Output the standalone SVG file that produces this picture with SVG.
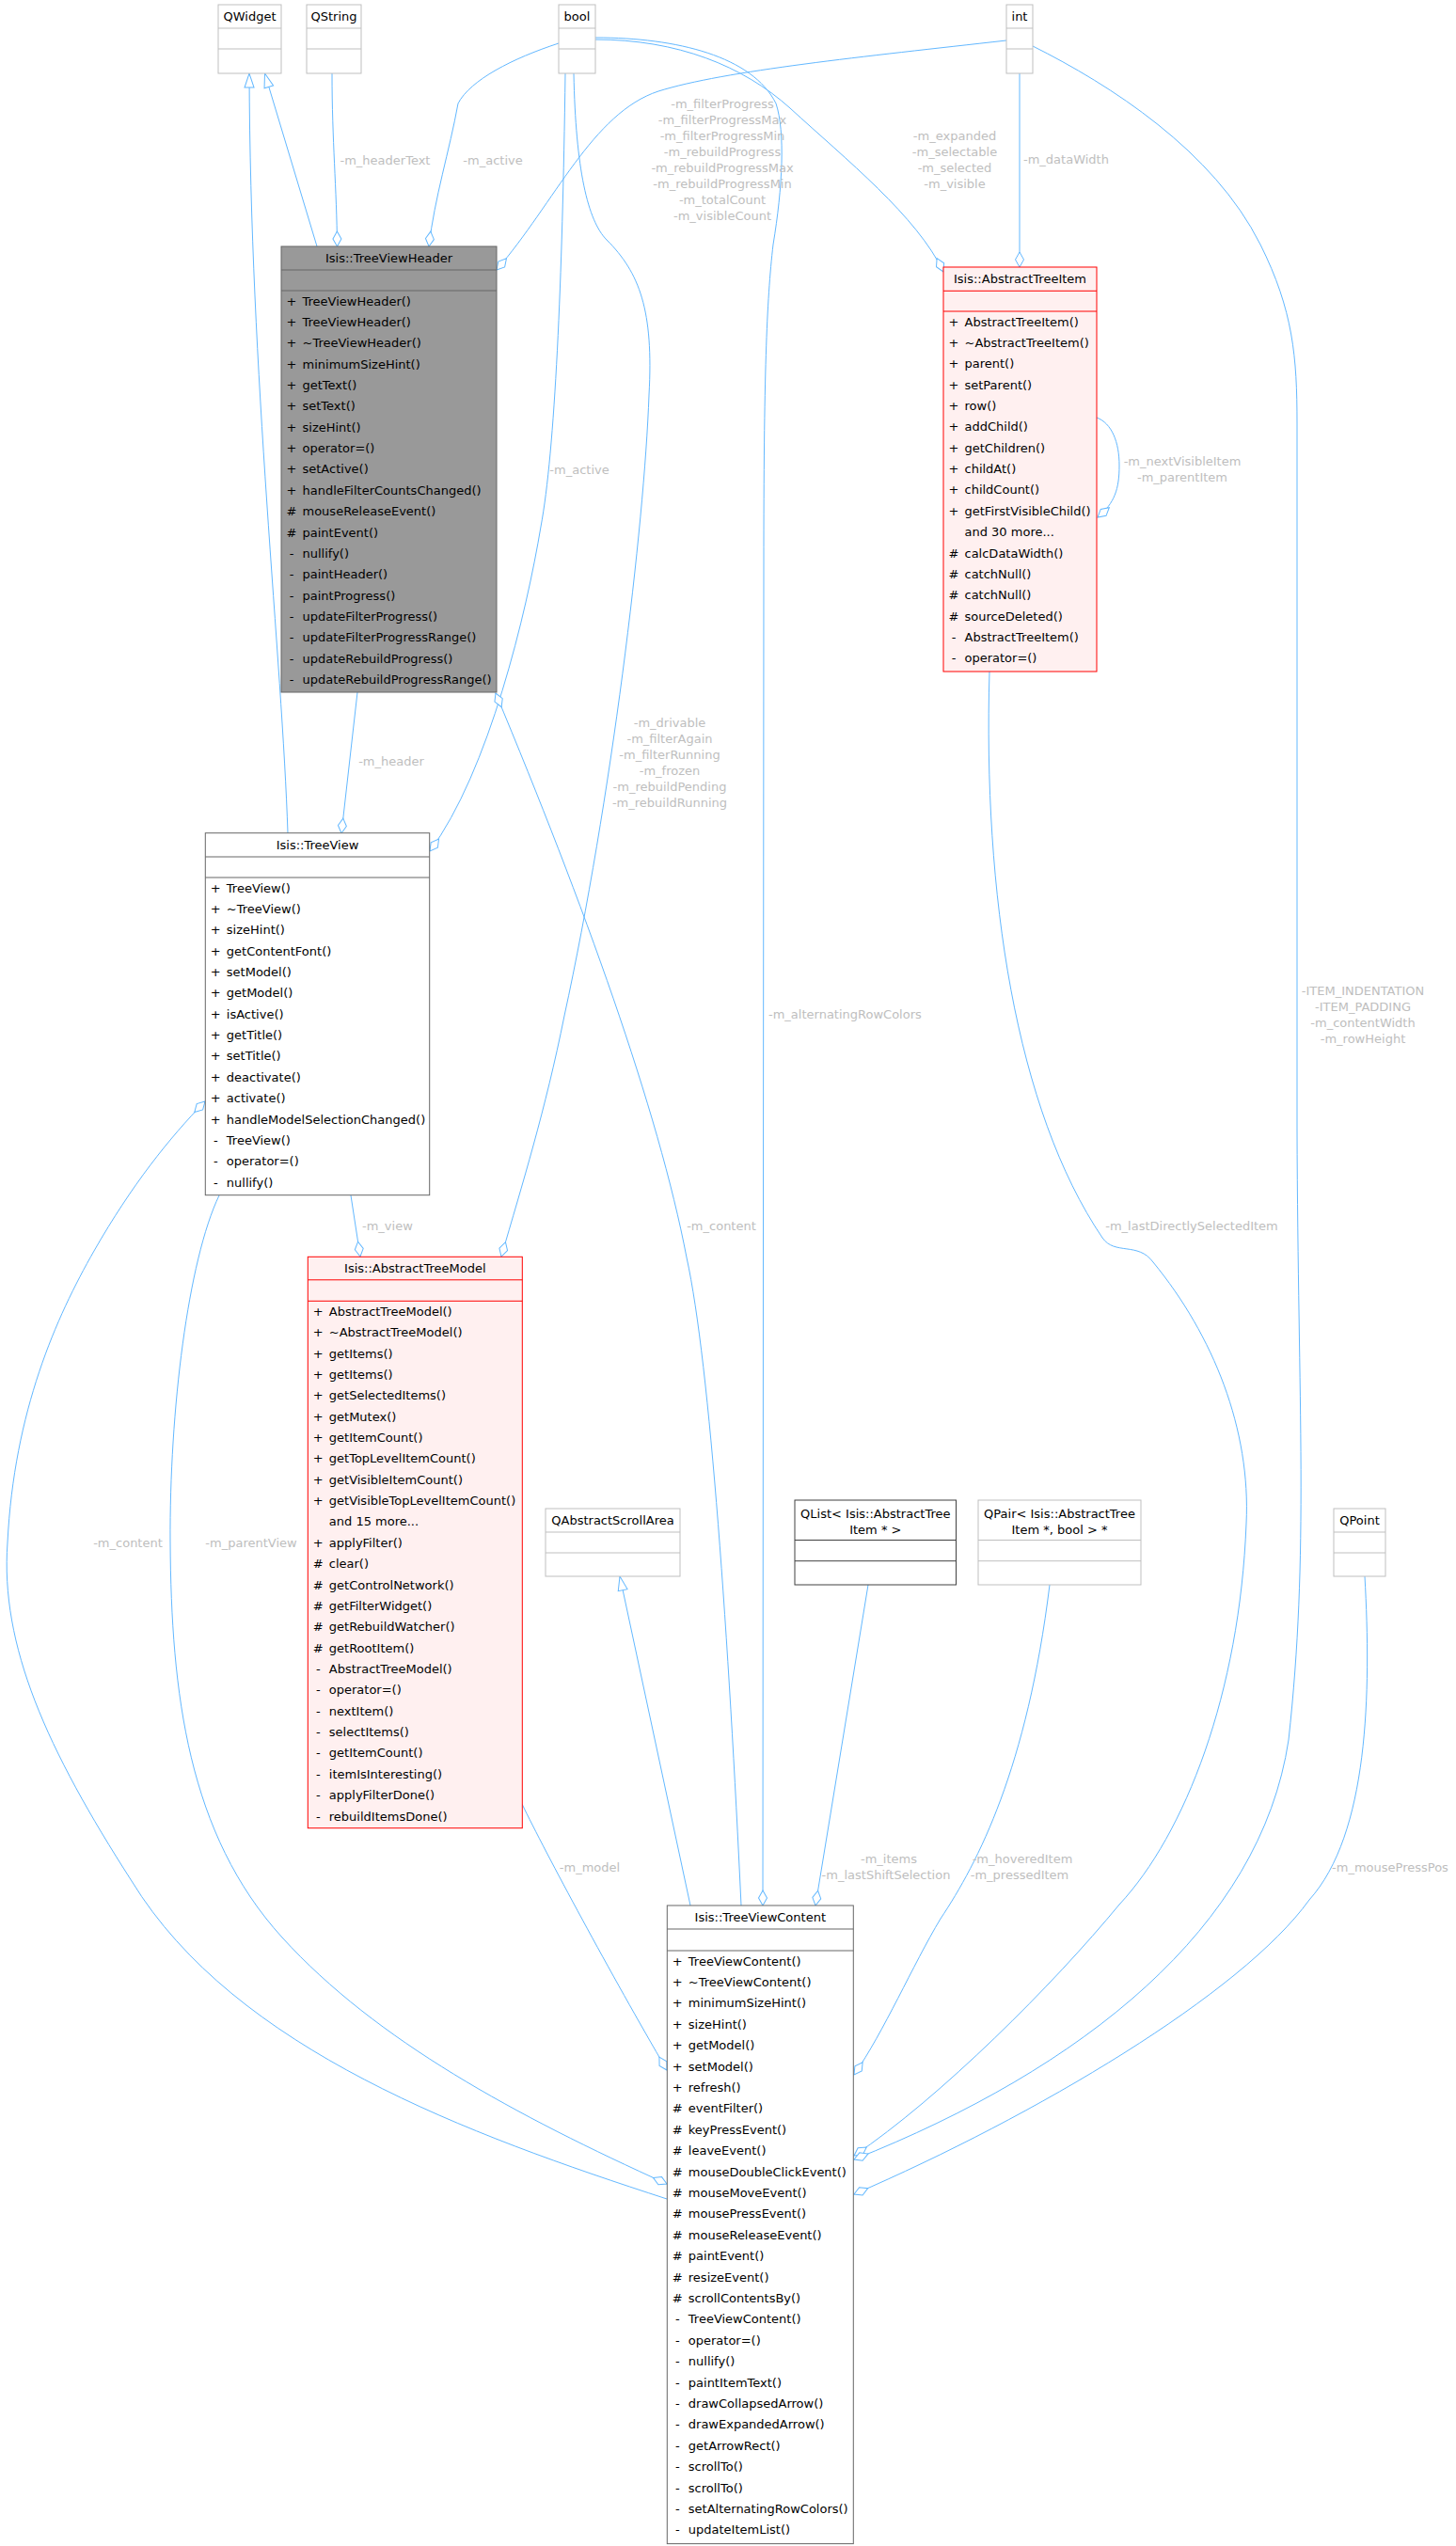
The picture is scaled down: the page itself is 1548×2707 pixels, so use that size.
<svg xmlns="http://www.w3.org/2000/svg" width="1548" height="2707" viewBox="0 0 1548 2707">
<defs>
<style>
text{font-family:"DejaVu Sans","Liberation Sans",sans-serif;font-size:13px;fill:#000}
.c{text-anchor:middle}
.l{fill:#bebebe}
.gray{fill:#fff;stroke:#bfbfbf}
.dark{fill:#fff;stroke:#666}
.hdr{fill:#999;stroke:#666}
.red{fill:#fff0f0;stroke:#ff0000}
.blk{fill:#fff;stroke:#404040}
.e{fill:none;stroke:#63b8ff;stroke-width:1}
.ed{marker-end:url(#dia)}
.ei{marker-end:url(#tri)}
</style>
<marker id="dia" markerUnits="userSpaceOnUse" markerWidth="18" markerHeight="12" refX="16" refY="0" orient="auto" overflow="visible"><path d="M0,0 L8,-4.5 L16,0 L8,4.5 Z" fill="#fff" stroke="#63b8ff"/></marker>
<marker id="tri" markerUnits="userSpaceOnUse" markerWidth="16" markerHeight="12" refX="15" refY="0" orient="auto" overflow="visible"><path d="M0,-5 L15,0 L0,5 Z" fill="#fff" stroke="#63b8ff"/></marker>
</defs>
<rect width="1548" height="2707" fill="#fff"/>

<g id="edges">
<path class="e ei" d="M306,886 C300,700 266,400 265,78"/>
<path class="e ei" d="M337,262 L281.5,78"/>
<path class="e ed" d="M353,78 C353,150 358,200 358.5,262"/>
<path class="e ed" d="M594,46 C545,62 500,85 487,110 C478,160 462,210 456,262"/>
<path class="e ed" d="M1070,43 C920,60 770,75 700,97 C630,120 590,215 528,287"/>
<path class="e ed" d="M633,42 C720,42 790,70 840,115 C900,170 975,230 1003,289"/>
<path class="e ed" d="M1084,78 L1084,284"/>
<path class="e ed" d="M601,78 C598,300 590,480 575,560 C560,650 520,820 457,905"/>
<path class="e ed" d="M610,78 C612,180 625,235 645,255 C680,290 695,330 690,420 C685,560 650,850 600,1080 C580,1180 555,1260 533,1336"/>
<path class="e ed" d="M633,40 C720,40 800,60 825,110 C835,140 832,200 822,260 C815,320 812,400 812,600 L811,2026"/>
<path class="e ed" d="M380,736 L363,886"/>
<path class="e ed" d="M788,2026 C775,1750 755,1450 730,1337 C700,1180 620,960 527,737"/>
<path class="e ei" d="M734,2026 L659,1676"/>
<path class="e ed" d="M373,1271 L383,1336"/>
<path class="e ed" d="M555,1918 C580,1970 650,2100 709,2201"/>
<path class="e ed" d="M923,1685 L867,2026"/>
<path class="e ed" d="M1116,1685 C1092,1880 1040,1980 1000,2040 C970,2090 940,2160 908,2206"/>
<path class="e ed" d="M1052,714 C1045,950 1080,1180 1172,1316 C1185,1335 1210,1320 1226,1342 C1290,1420 1330,1520 1325,1620 C1318,1800 1260,1950 1190,2025 C1120,2110 1000,2230 908,2292"/>
<path class="e ed" d="M1098,49 C1180,90 1290,160 1340,260 C1375,330 1379,380 1379,450 L1379,1200 C1380,1500 1392,1650 1370,1850 C1340,2050 1150,2200 908,2296"/>
<path class="e ed" d="M1451,1676 C1458,1800 1455,1950 1392,2020 C1320,2120 1100,2250 908,2333"/>
<path class="e ed" d="M233,1271 C200,1340 180,1500 181,1640 C182,1800 200,1950 300,2060 C400,2170 550,2250 709,2322"/>
<path class="e ed" d="M709,2338 C500,2270 250,2180 140,2000 C50,1860 0,1750 8,1640 C15,1500 60,1400 100,1330 C140,1260 180,1210 218,1171"/>
<path class="e ed" d="M1166,444 C1182,450 1190,470 1190,495 C1190,520 1185,535 1167,550"/>

<text class="l c" x="409.5" y="174.5">-m_headerText</text>
<text class="l c" x="524" y="174.5">-m_active</text>
<text class="l c" x="768" y="114.5">-m_filterProgress</text>
<text class="l c" x="768" y="131.5">-m_filterProgressMax</text>
<text class="l c" x="768" y="148.5">-m_filterProgressMin</text>
<text class="l c" x="768" y="165.5">-m_rebuildProgress</text>
<text class="l c" x="768" y="182.5">-m_rebuildProgressMax</text>
<text class="l c" x="768" y="199.5">-m_rebuildProgressMin</text>
<text class="l c" x="768" y="216.5">-m_totalCount</text>
<text class="l c" x="768" y="233.5">-m_visibleCount</text>
<text class="l c" x="1015" y="148.5">-m_expanded</text>
<text class="l c" x="1015" y="165.5">-m_selectable</text>
<text class="l c" x="1015" y="182.5">-m_selected</text>
<text class="l c" x="1015" y="199.5">-m_visible</text>
<text class="l" x="1088" y="174">-m_dataWidth</text>
<text class="l c" x="616" y="503.5">-m_active</text>
<text class="l c" x="416" y="813.5">-m_header</text>
<text class="l c" x="1257" y="494.5">-m_nextVisibleItem</text>
<text class="l c" x="1257" y="511.5">-m_parentItem</text>
<text class="l c" x="712" y="773">-m_drivable</text>
<text class="l c" x="712" y="790">-m_filterAgain</text>
<text class="l c" x="712" y="807">-m_filterRunning</text>
<text class="l c" x="712" y="824">-m_frozen</text>
<text class="l c" x="712" y="841">-m_rebuildPending</text>
<text class="l c" x="712" y="858">-m_rebuildRunning</text>
<text class="l" x="817" y="1083">-m_alternatingRowColors</text>
<text class="l c" x="1449" y="1057.5">-ITEM_INDENTATION</text>
<text class="l c" x="1449" y="1074.5">-ITEM_PADDING</text>
<text class="l c" x="1449" y="1091.5">-m_contentWidth</text>
<text class="l c" x="1449" y="1108.5">-m_rowHeight</text>
<text class="l c" x="767" y="1307.5">-m_content</text>
<text class="l c" x="1267" y="1307.5">-m_lastDirectlySelectedItem</text>
<text class="l" x="385" y="1307.5">-m_view</text>
<text class="l c" x="136" y="1644.5">-m_content</text>
<text class="l c" x="267" y="1644.5">-m_parentView</text>
<text class="l c" x="627" y="1989.5">-m_model</text>
<text class="l c" x="945" y="1981">-m_items</text>
<text class="l c" x="942" y="1998">-m_lastShiftSelection</text>
<text class="l c" x="1087" y="1981">-m_hoveredItem</text>
<text class="l c" x="1084" y="1998">-m_pressedItem</text>
<text class="l c" x="1478" y="1989.5">-m_mousePressPos</text>
</g>

<g id="QWidget">
<rect class="gray" x="232" y="5" width="67" height="73"/>
<line class="gray" x1="232" y1="30" x2="299" y2="30"/><line class="gray" x1="232" y1="52" x2="299" y2="52"/>
<text class="c" x="265.5" y="22">QWidget</text>
</g>
<g id="QString">
<rect class="gray" x="326" y="5" width="58" height="73"/>
<line class="gray" x1="326" y1="30" x2="384" y2="30"/><line class="gray" x1="326" y1="52" x2="384" y2="52"/>
<text class="c" x="355" y="22">QString</text>
</g>
<g id="bool">
<rect class="gray" x="594" y="5" width="39" height="73"/>
<line class="gray" x1="594" y1="30" x2="633" y2="30"/><line class="gray" x1="594" y1="52" x2="633" y2="52"/>
<text class="c" x="613.5" y="22">bool</text>
</g>
<g id="int">
<rect class="gray" x="1070" y="5" width="28" height="73"/>
<line class="gray" x1="1070" y1="30" x2="1098" y2="30"/><line class="gray" x1="1070" y1="52" x2="1098" y2="52"/>
<text class="c" x="1084" y="22">int</text>
</g>

<g id="TreeViewHeader">
<rect class="hdr" x="299" y="262" width="229" height="474"/>
<line class="hdr" x1="299" y1="287" x2="528" y2="287"/><line class="hdr" x1="299" y1="309" x2="528" y2="309"/>
<text class="c" x="413.5" y="279">Isis::TreeViewHeader</text>
<g transform="translate(299,324.6)">
<text class="c" x="11" y="0">+</text><text x="22.5" y="0">TreeViewHeader()</text>
<text class="c" x="11" y="22.36">+</text><text x="22.5" y="22.36">TreeViewHeader()</text>
<text class="c" x="11" y="44.72">+</text><text x="22.5" y="44.72">~TreeViewHeader()</text>
<text class="c" x="11" y="67.08">+</text><text x="22.5" y="67.08">minimumSizeHint()</text>
<text class="c" x="11" y="89.44">+</text><text x="22.5" y="89.44">getText()</text>
<text class="c" x="11" y="111.8">+</text><text x="22.5" y="111.8">setText()</text>
<text class="c" x="11" y="134.16">+</text><text x="22.5" y="134.16">sizeHint()</text>
<text class="c" x="11" y="156.52">+</text><text x="22.5" y="156.52">operator=()</text>
<text class="c" x="11" y="178.88">+</text><text x="22.5" y="178.88">setActive()</text>
<text class="c" x="11" y="201.24">+</text><text x="22.5" y="201.24">handleFilterCountsChanged()</text>
<text class="c" x="11" y="223.6">#</text><text x="22.5" y="223.6">mouseReleaseEvent()</text>
<text class="c" x="11" y="245.96">#</text><text x="22.5" y="245.96">paintEvent()</text>
<text class="c" x="11" y="268.32">-</text><text x="22.5" y="268.32">nullify()</text>
<text class="c" x="11" y="290.68">-</text><text x="22.5" y="290.68">paintHeader()</text>
<text class="c" x="11" y="313.04">-</text><text x="22.5" y="313.04">paintProgress()</text>
<text class="c" x="11" y="335.4">-</text><text x="22.5" y="335.4">updateFilterProgress()</text>
<text class="c" x="11" y="357.76">-</text><text x="22.5" y="357.76">updateFilterProgressRange()</text>
<text class="c" x="11" y="380.12">-</text><text x="22.5" y="380.12">updateRebuildProgress()</text>
<text class="c" x="11" y="402.48">-</text><text x="22.5" y="402.48">updateRebuildProgressRange()</text>
</g>
</g>

<g id="AbstractTreeItem">
<rect class="red" x="1003" y="284" width="163" height="430"/>
<line class="red" x1="1003" y1="309.3" x2="1166" y2="309.3"/><line class="red" x1="1003" y1="331" x2="1166" y2="331"/>
<text class="c" x="1084.5" y="301">Isis::AbstractTreeItem</text>
<g transform="translate(1003,346.6)">
<text class="c" x="11" y="0">+</text><text x="22.5" y="0">AbstractTreeItem()</text>
<text class="c" x="11" y="22.36">+</text><text x="22.5" y="22.36">~AbstractTreeItem()</text>
<text class="c" x="11" y="44.72">+</text><text x="22.5" y="44.72">parent()</text>
<text class="c" x="11" y="67.08">+</text><text x="22.5" y="67.08">setParent()</text>
<text class="c" x="11" y="89.44">+</text><text x="22.5" y="89.44">row()</text>
<text class="c" x="11" y="111.8">+</text><text x="22.5" y="111.8">addChild()</text>
<text class="c" x="11" y="134.16">+</text><text x="22.5" y="134.16">getChildren()</text>
<text class="c" x="11" y="156.52">+</text><text x="22.5" y="156.52">childAt()</text>
<text class="c" x="11" y="178.88">+</text><text x="22.5" y="178.88">childCount()</text>
<text class="c" x="11" y="201.24">+</text><text x="22.5" y="201.24">getFirstVisibleChild()</text>
<text x="22.5" y="223.6">and 30 more...</text>
<text class="c" x="11" y="245.96">#</text><text x="22.5" y="245.96">calcDataWidth()</text>
<text class="c" x="11" y="268.32">#</text><text x="22.5" y="268.32">catchNull()</text>
<text class="c" x="11" y="290.68">#</text><text x="22.5" y="290.68">catchNull()</text>
<text class="c" x="11" y="313.04">#</text><text x="22.5" y="313.04">sourceDeleted()</text>
<text class="c" x="11" y="335.4">-</text><text x="22.5" y="335.4">AbstractTreeItem()</text>
<text class="c" x="11" y="357.76">-</text><text x="22.5" y="357.76">operator=()</text>
</g>
</g>

<g id="TreeView">
<rect class="dark" x="218.3" y="885.7" width="238.4" height="385"/>
<line class="dark" x1="218.3" y1="911" x2="456.7" y2="911"/><line class="dark" x1="218.3" y1="933" x2="456.7" y2="933"/>
<text class="c" x="337.5" y="903">Isis::TreeView</text>
<g transform="translate(218.3,948.6)">
<text class="c" x="11" y="0">+</text><text x="22.5" y="0">TreeView()</text>
<text class="c" x="11" y="22.36">+</text><text x="22.5" y="22.36">~TreeView()</text>
<text class="c" x="11" y="44.72">+</text><text x="22.5" y="44.72">sizeHint()</text>
<text class="c" x="11" y="67.08">+</text><text x="22.5" y="67.08">getContentFont()</text>
<text class="c" x="11" y="89.44">+</text><text x="22.5" y="89.44">setModel()</text>
<text class="c" x="11" y="111.8">+</text><text x="22.5" y="111.8">getModel()</text>
<text class="c" x="11" y="134.16">+</text><text x="22.5" y="134.16">isActive()</text>
<text class="c" x="11" y="156.52">+</text><text x="22.5" y="156.52">getTitle()</text>
<text class="c" x="11" y="178.88">+</text><text x="22.5" y="178.88">setTitle()</text>
<text class="c" x="11" y="201.24">+</text><text x="22.5" y="201.24">deactivate()</text>
<text class="c" x="11" y="223.6">+</text><text x="22.5" y="223.6">activate()</text>
<text class="c" x="11" y="245.96">+</text><text x="22.5" y="245.96">handleModelSelectionChanged()</text>
<text class="c" x="11" y="268.32">-</text><text x="22.5" y="268.32">TreeView()</text>
<text class="c" x="11" y="290.68">-</text><text x="22.5" y="290.68">operator=()</text>
<text class="c" x="11" y="313.04">-</text><text x="22.5" y="313.04">nullify()</text>
</g>
</g>

<g id="AbstractTreeModel">
<rect class="red" x="327.3" y="1336.3" width="228" height="607.4"/>
<line class="red" x1="327.3" y1="1360.8" x2="555.3" y2="1360.8"/><line class="red" x1="327.3" y1="1383.3" x2="555.3" y2="1383.3"/>
<text class="c" x="441.3" y="1353">Isis::AbstractTreeModel</text>
<g transform="translate(327.3,1398.9)">
<text class="c" x="11" y="0">+</text><text x="22.5" y="0">AbstractTreeModel()</text>
<text class="c" x="11" y="22.36">+</text><text x="22.5" y="22.36">~AbstractTreeModel()</text>
<text class="c" x="11" y="44.72">+</text><text x="22.5" y="44.72">getItems()</text>
<text class="c" x="11" y="67.08">+</text><text x="22.5" y="67.08">getItems()</text>
<text class="c" x="11" y="89.44">+</text><text x="22.5" y="89.44">getSelectedItems()</text>
<text class="c" x="11" y="111.8">+</text><text x="22.5" y="111.8">getMutex()</text>
<text class="c" x="11" y="134.16">+</text><text x="22.5" y="134.16">getItemCount()</text>
<text class="c" x="11" y="156.52">+</text><text x="22.5" y="156.52">getTopLevelItemCount()</text>
<text class="c" x="11" y="178.88">+</text><text x="22.5" y="178.88">getVisibleItemCount()</text>
<text class="c" x="11" y="201.24">+</text><text x="22.5" y="201.24">getVisibleTopLevelItemCount()</text>
<text x="22.5" y="223.6">and 15 more...</text>
<text class="c" x="11" y="245.96">+</text><text x="22.5" y="245.96">applyFilter()</text>
<text class="c" x="11" y="268.32">#</text><text x="22.5" y="268.32">clear()</text>
<text class="c" x="11" y="290.68">#</text><text x="22.5" y="290.68">getControlNetwork()</text>
<text class="c" x="11" y="313.04">#</text><text x="22.5" y="313.04">getFilterWidget()</text>
<text class="c" x="11" y="335.4">#</text><text x="22.5" y="335.4">getRebuildWatcher()</text>
<text class="c" x="11" y="357.76">#</text><text x="22.5" y="357.76">getRootItem()</text>
<text class="c" x="11" y="380.12">-</text><text x="22.5" y="380.12">AbstractTreeModel()</text>
<text class="c" x="11" y="402.48">-</text><text x="22.5" y="402.48">operator=()</text>
<text class="c" x="11" y="424.84">-</text><text x="22.5" y="424.84">nextItem()</text>
<text class="c" x="11" y="447.2">-</text><text x="22.5" y="447.2">selectItems()</text>
<text class="c" x="11" y="469.56">-</text><text x="22.5" y="469.56">getItemCount()</text>
<text class="c" x="11" y="491.92">-</text><text x="22.5" y="491.92">itemIsInteresting()</text>
<text class="c" x="11" y="514.28">-</text><text x="22.5" y="514.28">applyFilterDone()</text>
<text class="c" x="11" y="536.64">-</text><text x="22.5" y="536.64">rebuildItemsDone()</text>
</g>
</g>

<g id="QAbstractScrollArea">
<rect class="gray" x="580" y="1604" width="143" height="72"/>
<line class="gray" x1="580" y1="1629" x2="723" y2="1629"/><line class="gray" x1="580" y1="1651" x2="723" y2="1651"/>
<text class="c" x="651.5" y="1621">QAbstractScrollArea</text>
</g>
<g id="QList">
<rect class="blk" x="845" y="1595" width="171.5" height="90"/>
<line class="blk" x1="845" y1="1637.5" x2="1016.5" y2="1637.5"/><line class="blk" x1="845" y1="1659.7" x2="1016.5" y2="1659.7"/>
<text class="c" x="930.8" y="1614">QList&lt; Isis::AbstractTree</text>
<text class="c" x="930.8" y="1630.5">Item * &gt;</text>
</g>
<g id="QPair">
<rect class="gray" x="1040" y="1595" width="173" height="90"/>
<line class="gray" x1="1040" y1="1637.5" x2="1213" y2="1637.5"/><line class="gray" x1="1040" y1="1659.7" x2="1213" y2="1659.7"/>
<text class="c" x="1126.5" y="1614">QPair&lt; Isis::AbstractTree</text>
<text class="c" x="1126.5" y="1630.5">Item *, bool &gt; *</text>
</g>
<g id="QPoint">
<rect class="gray" x="1418" y="1604" width="55" height="72"/>
<line class="gray" x1="1418" y1="1629" x2="1473" y2="1629"/><line class="gray" x1="1418" y1="1651" x2="1473" y2="1651"/>
<text class="c" x="1445.5" y="1621">QPoint</text>
</g>

<g id="TreeViewContent">
<rect class="dark" x="709.3" y="2026" width="198" height="678.6"/>
<line class="dark" x1="709.3" y1="2051" x2="907.3" y2="2051"/><line class="dark" x1="709.3" y1="2074" x2="907.3" y2="2074"/>
<text class="c" x="808.3" y="2043">Isis::TreeViewContent</text>
<g transform="translate(709.3,2089.6)">
<text class="c" x="11" y="0">+</text><text x="22.5" y="0">TreeViewContent()</text>
<text class="c" x="11" y="22.4">+</text><text x="22.5" y="22.4">~TreeViewContent()</text>
<text class="c" x="11" y="44.8">+</text><text x="22.5" y="44.8">minimumSizeHint()</text>
<text class="c" x="11" y="67.2">+</text><text x="22.5" y="67.2">sizeHint()</text>
<text class="c" x="11" y="89.6">+</text><text x="22.5" y="89.6">getModel()</text>
<text class="c" x="11" y="112">+</text><text x="22.5" y="112">setModel()</text>
<text class="c" x="11" y="134.4">+</text><text x="22.5" y="134.4">refresh()</text>
<text class="c" x="11" y="156.8">#</text><text x="22.5" y="156.8">eventFilter()</text>
<text class="c" x="11" y="179.2">#</text><text x="22.5" y="179.2">keyPressEvent()</text>
<text class="c" x="11" y="201.6">#</text><text x="22.5" y="201.6">leaveEvent()</text>
<text class="c" x="11" y="224">#</text><text x="22.5" y="224">mouseDoubleClickEvent()</text>
<text class="c" x="11" y="246.4">#</text><text x="22.5" y="246.4">mouseMoveEvent()</text>
<text class="c" x="11" y="268.8">#</text><text x="22.5" y="268.8">mousePressEvent()</text>
<text class="c" x="11" y="291.2">#</text><text x="22.5" y="291.2">mouseReleaseEvent()</text>
<text class="c" x="11" y="313.6">#</text><text x="22.5" y="313.6">paintEvent()</text>
<text class="c" x="11" y="336">#</text><text x="22.5" y="336">resizeEvent()</text>
<text class="c" x="11" y="358.4">#</text><text x="22.5" y="358.4">scrollContentsBy()</text>
<text class="c" x="11" y="380.8">-</text><text x="22.5" y="380.8">TreeViewContent()</text>
<text class="c" x="11" y="403.2">-</text><text x="22.5" y="403.2">operator=()</text>
<text class="c" x="11" y="425.6">-</text><text x="22.5" y="425.6">nullify()</text>
<text class="c" x="11" y="448">-</text><text x="22.5" y="448">paintItemText()</text>
<text class="c" x="11" y="470.4">-</text><text x="22.5" y="470.4">drawCollapsedArrow()</text>
<text class="c" x="11" y="492.8">-</text><text x="22.5" y="492.8">drawExpandedArrow()</text>
<text class="c" x="11" y="515.2">-</text><text x="22.5" y="515.2">getArrowRect()</text>
<text class="c" x="11" y="537.6">-</text><text x="22.5" y="537.6">scrollTo()</text>
<text class="c" x="11" y="560">-</text><text x="22.5" y="560">scrollTo()</text>
<text class="c" x="11" y="582.4">-</text><text x="22.5" y="582.4">setAlternatingRowColors()</text>
<text class="c" x="11" y="604.8">-</text><text x="22.5" y="604.8">updateItemList()</text>
</g>
</g>
</svg>
